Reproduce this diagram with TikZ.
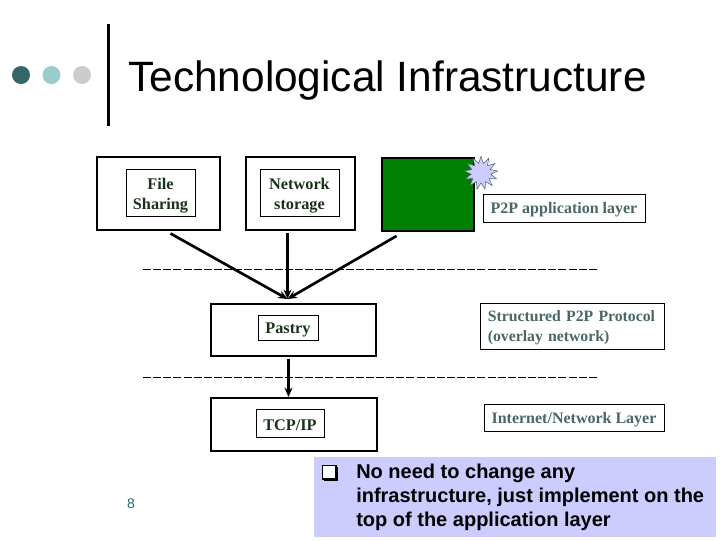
\documentclass[tikz,border=0pt]{standalone}
\usepackage{fontspec}
\setmainfont{Liberation Serif}
\newfontfamily\arialfont{Liberation Sans}
\usetikzlibrary{shapes.geometric,arrows.meta}
\definecolor{dotA}{HTML}{336666}
\definecolor{dotB}{HTML}{99CCCC}
\definecolor{dotC}{HTML}{CCCCCC}
\definecolor{panel}{HTML}{CCCCFF}
\definecolor{leaf}{HTML}{008000}
\definecolor{darktext}{HTML}{1A3318}
\definecolor{slatetext}{HTML}{4A6666}
\tikzset{
  outerbox/.style={draw=black,line width=1.5pt,fill=white,inner sep=0pt,anchor=north west},
  innerbox/.style={draw=black,line width=0.5pt,fill=white,inner sep=0pt,align=center,font=\fontsize{12.2}{15}\selectfont\bfseries,text=darktext,execute at begin node={\rule{0pt}{11pt}}},
  labelbox/.style={draw=black,line width=0.5pt,fill=white,inner sep=0pt,align=left,font=\fontsize{12}{15}\selectfont\bfseries,text=slatetext,execute at begin node={\rule{0pt}{11.5pt}}},
  link/.style={line width=2pt,-{Stealth[length=7pt,width=6pt]}},
  layerline/.style={line width=0.6pt,dash pattern=on 6pt off 1.6pt},
  dot/.style={circle,inner sep=0pt,minimum size=13.5pt}
}
\begin{document}
\begin{tikzpicture}[x=0.75pt,y=-0.75pt]
\useasboundingbox (0,0) rectangle (720,540);
\fill[white] (0,0) rectangle (720,540);
% header
\node[dot,fill=dotA] (d1) at (21,75) {};
\node[dot,fill=dotB] (d2) at (51.5,75) {};
\node[dot,fill=dotC] (d3) at (82,75) {};
\coordinate (barTop) at (108.5,24);
\coordinate (barBot) at (108.5,126);
\draw[line width=2.2pt] (barTop) -- (barBot);
\node[anchor=base west,inner sep=0pt,font=\arialfont\fontsize{31.8}{36}\selectfont] (title) at (128,91) {Technological Infrastructure};
% outer boxes
\node[outerbox,minimum width=92.25pt,minimum height=55pt] (file) at (96,156) {};
\node[outerbox,minimum width=81.75pt,minimum height=55pt] (net) at (245,156) {};
\node[outerbox,minimum width=68.75pt,minimum height=55pt,fill=leaf] (app) at (381,157) {};
\node[outerbox,minimum width=123.75pt,minimum height=39pt] (pastry) at (210,303) {};
\node[outerbox,minimum width=124.25pt,minimum height=40pt] (tcp) at (210,397) {};
% inner boxes
\node[innerbox,minimum width=52pt,minimum height=35.5pt,text width=50pt,execute at begin node={\rule{0pt}{13pt}}] (fileL) at (160.5,192.5) {File\\Sharing};
\node[innerbox,minimum width=59.5pt,minimum height=35.5pt,text width=57pt,execute at begin node={\rule{0pt}{13pt}}] (netL) at (299.5,192.5) {Network\\storage};
\node[innerbox,minimum width=45pt,minimum height=18.5pt] (pastryL) at (288,327.5) {Pastry};
\node[innerbox,minimum width=51pt,minimum height=21pt] (tcpL) at (290,423) {TCP/IP};
% labels
\node[labelbox,minimum width=121.5pt,minimum height=21pt,align=center] (p2p) at (564,208) {P2P application layer};
\node[labelbox,minimum width=138pt,minimum height=34.5pt,text width=127pt,font=\fontsize{11.8}{15}\selectfont\bfseries] (struct) at (572.5,326) {Structured P2P Protocol\\(overlay network)};
\node[labelbox,minimum width=135pt,minimum height=20pt,align=center] (inet) at (574,417.5) {Internet/Network Layer};
% burst
\node[star,star points=13,star point ratio=1.7,draw=slatetext,line width=0.4pt,fill=panel,inner sep=0pt,minimum size=25pt] (burst) at (481,173) {};
% layer separators
\coordinate (s1a) at (143,269); \coordinate (s1b) at (597,269);
\coordinate (s2a) at (143,377); \coordinate (s2b) at (597,377);
\draw[layerline] (s1a) -- (s1b);
\draw[layerline] (s2a) -- (s2b);
% connectors
\coordinate (fileOut) at (170.5,233.5);
\coordinate (netOut) at (287.5,233);
\coordinate (appOut) at (396.5,236);
\coordinate (pastryOut) at (288.5,359);
\coordinate (pastryIn) at (287.5,299);
\draw[link] (fileOut) -- (pastryIn);
\draw[link] (netOut) -- (pastryIn);
\draw[link] (appOut) -- (pastryIn);
\draw[link] (pastryOut) -- (pastryOut |- tcp.north);
% page number
\node[anchor=base,inner sep=0pt,font=\arialfont\fontsize{10.5}{12}\selectfont,text=dotA] (pg) at (131,508.5) {8};
% note
\node[anchor=north west,fill=panel,inner sep=0pt,minimum width=301.5pt,minimum height=59.5pt] (note) at (314,457) {};
\node[anchor=north west,inner sep=0pt,font=\arialfont\fontsize{15}{18}\selectfont\bfseries,align=left] (noteT) at (356,464) {No need to change any\\infrastructure, just implement on the\\top of the application layer};
\draw[line width=0.9pt,fill=white] (322.5,465.5) rectangle (336,479);
\draw[line width=1.8pt] (323.5,479.5) -- (337,479.5) -- (337,467);
\end{tikzpicture}
\end{document}
